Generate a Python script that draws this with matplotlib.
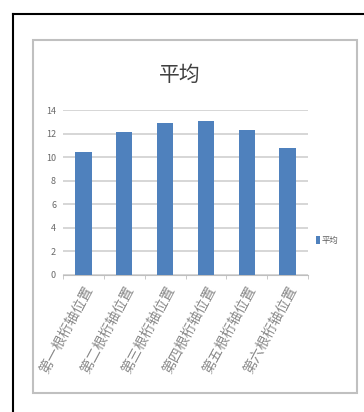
import numpy as np
import matplotlib.pyplot as plt
from matplotlib.patches import Rectangle
from matplotlib.lines import Line2D

plt.rcParams['font.family'] = ['Noto Sans CJK SC', 'DejaVu Sans']

categories = ['第一根桁轴位置', '第二根桁轴位置', '第三根桁轴位置',
              '第四根桁轴位置', '第五根桁轴位置', '第六根桁轴位置']
values = [10.4, 12.1, 12.9, 13.1, 12.3, 10.8]
series_name = '平均'
yticks = [0, 2, 4, 6, 8, 10, 12, 14]

W, H = 364, 412
fig = plt.figure(figsize=(W / 100, H / 100), dpi=100)

# outer black frame (left and top edges visible)
fig.add_artist(Line2D([13 / W, 13 / W], [0, (H - 14) / H], color='black', lw=1.5))
fig.add_artist(Line2D([13 / W, 1], [(H - 14) / H, (H - 14) / H], color='black', lw=1.5))
# grey chart frame
fig.add_artist(Rectangle((33 / W, (H - 393) / H), (357 - 33) / W, (393 - 40) / H,
                         transform=fig.transFigure, fill=False, edgecolor='#c0c0c0', lw=1.5))

ax = fig.add_axes([63 / W, (H - 275) / H, (308 - 63) / W, (275 - 110) / H])
x = np.arange(len(categories))
ax.bar(x, values, width=0.4, color='#4f81bd', label=series_name, zorder=3)

ax.set_xlim(-0.5, len(categories) - 0.5)
ax.set_ylim(0, 14)
ax.set_yticks(yticks)
ax.set_yticklabels([str(t) for t in yticks], fontsize=6.5, color='#6a6a6a')
ax.tick_params(axis='y', length=0, pad=5)
ax.yaxis.grid(True, color='#d0d0d0', lw=1.2, zorder=0)

ax.set_xticks(x)
ax.set_xticklabels(categories, rotation=62, ha='right', rotation_mode='anchor',
                   fontsize=10, color='#8a8a8a')
ax.tick_params(axis='x', length=0, pad=6)
ax.set_xticks(np.arange(-0.5, len(categories)), minor=True)
ax.tick_params(axis='x', which='minor', length=3, color='#bfbfbf')

for s in ['top', 'right', 'left']:
    ax.spines[s].set_visible(False)
ax.spines['bottom'].set_color('#bfbfbf')

fig.text(180 / W, 1 - 75 / H, series_name, fontsize=15, ha='center', va='center', color='#404040')

ax.legend(loc='center left', bbox_to_anchor=(1.0, 0.21), frameon=False, fontsize=6,
          handlelength=0.5, handleheight=1.0, handletextpad=0.2, labelcolor='#595959')

fig.savefig('out.png', dpi=100)
